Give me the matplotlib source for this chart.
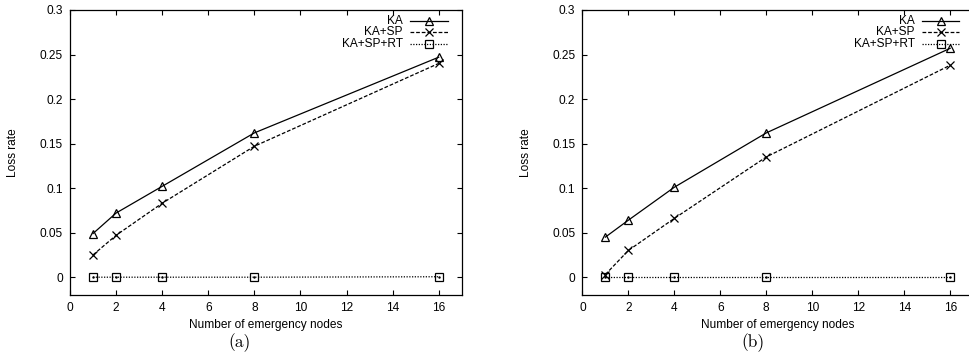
import matplotlib
matplotlib.use("Agg")
import matplotlib.pyplot as plt

plt.rcParams['font.family'] = ['Liberation Sans', 'DejaVu Sans']

nodes = [1, 2, 4, 8, 16]

# panel (a)
ka_a = [0.049, 0.072, 0.102, 0.162, 0.247]
ka_sp_a = [0.025, 0.047, 0.083, 0.147, 0.240]
ka_sp_rt_a = [0.0, 0.0, 0.0, 0.0, 0.0005]

# panel (b)
ka_b = [0.045, 0.064, 0.101, 0.162, 0.257]
ka_sp_b = [0.003, 0.030, 0.066, 0.135, 0.238]
ka_sp_rt_b = [0.0, 0.0, 0.0, 0.0, 0.0]

labels = ['KA', 'KA+SP', 'KA+SP+RT']
xticks = list(range(0, 17, 2))
yticks = [0, 0.05, 0.1, 0.15, 0.2, 0.25, 0.3]
ytick_labels = ['0', '0.05', '0.1', '0.15', '0.2', '0.25', '0.3']
captions = ['(a)', '(b)']

styles = [
    dict(ls='-', marker='^', mfc='none'),
    dict(ls=(0, (3, 1.5)), marker='x', mfc='none'),
    dict(ls=(0, (1, 1.2)), marker='s', mfc='none'),
]
FS = 8.6


def draw_panel(ax, series, right_ticks=True):
    for vals, st in zip(series, styles):
        ax.plot(nodes, vals, color='black', lw=0.9, ms=6, mec='black',
                mew=0.9, **st)
    # gnuplot boxes carry a small dot in the middle
    ax.plot(nodes, series[2], ls='none', marker='.', ms=1.5, color='black')

    ax.set_xlim(0, 17)
    ax.set_ylim(-0.02, 0.3)
    ax.set_xticks(xticks)
    ax.set_yticks(yticks)
    ax.set_yticklabels(ytick_labels)
    ax.tick_params(direction='in', length=3.5, width=0.8, labelsize=FS,
                   top=True, right=right_ticks, pad=5)
    for s in ax.spines.values():
        s.set_linewidth(0.9)

    ax.set_xlabel('Number of emergency nodes', fontsize=FS)
    ax.set_ylabel('Loss rate', fontsize=FS)
    ax.xaxis.set_label_coords(0.5, -0.085)
    ax.yaxis.set_label_coords(-0.13, 0.5)

    # gnuplot style key: right-aligned text, sample line to the right
    key_y = [0.962, 0.923, 0.882]
    for lab, st, y in zip(labels, styles, key_y):
        ax.text(0.85, y, lab, transform=ax.transAxes, ha='right',
                va='center', fontsize=FS)
        ax.plot([0.869, 0.964], [y, y], transform=ax.transAxes,
                color='black', lw=0.9, ls=st['ls'], clip_on=False)
        ax.plot([0.9165], [y], transform=ax.transAxes, color='black',
                marker=st['marker'], mfc='none', mec='black', ms=6, mew=0.9,
                clip_on=False)


fig = plt.figure(figsize=(9.69, 3.61), dpi=100)
ax1 = fig.add_axes([0.0722, 0.1828, 0.4043, 0.7895])
ax2 = fig.add_axes([0.601, 0.1828, 0.4033, 0.7895])

draw_panel(ax1, [ka_a, ka_sp_a, ka_sp_rt_a])
draw_panel(ax2, [ka_b, ka_sp_b, ka_sp_rt_b], right_ticks=False)

fig.text(0.247, 0.05, captions[0], fontsize=12.5, family='cmr10',
         ha='center', va='center')
fig.text(0.777, 0.05, captions[1], fontsize=12.5, family='cmr10',
         ha='center', va='center')

fig.savefig('out.png', dpi=100)
